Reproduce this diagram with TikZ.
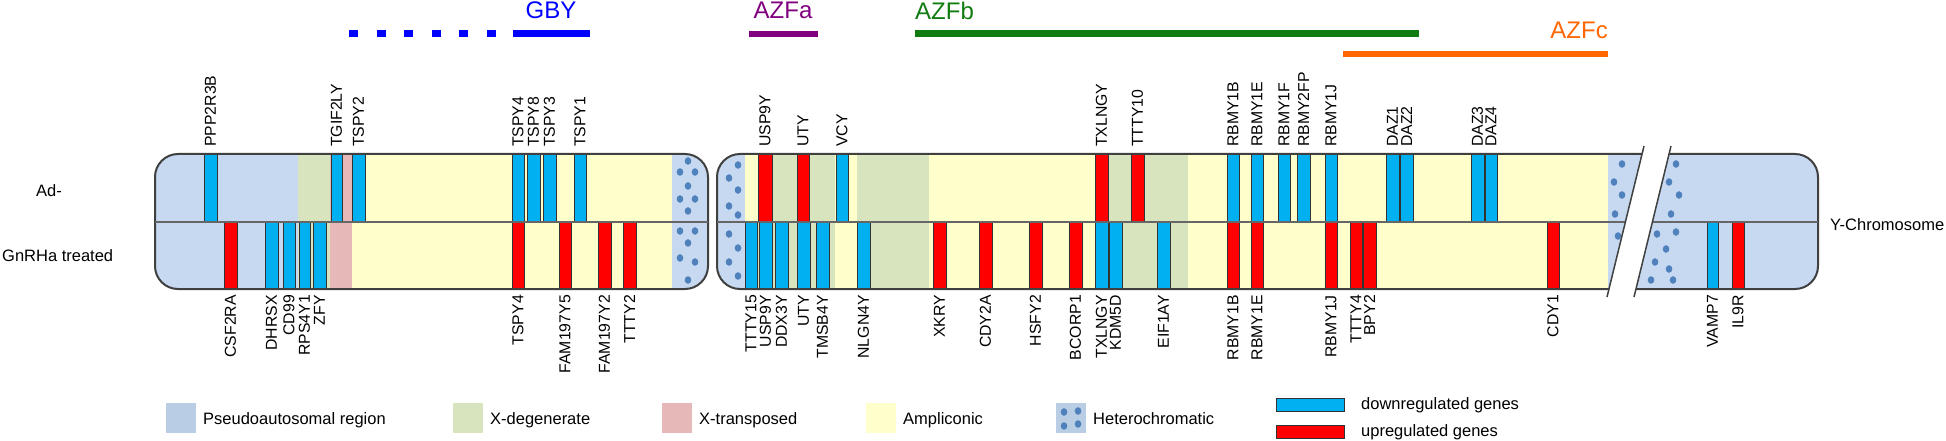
\documentclass[tikz,border=0pt]{standalone}
\usepackage{fontspec}
\setmainfont{Liberation Sans}
\usepackage{xcolor}
\definecolor{parblue}{RGB}{198,217,241}
\definecolor{parleg}{RGB}{185,205,229}
\definecolor{xdeg}{RGB}{215,228,189}
\definecolor{xtrans}{RGB}{230,185,184}
\definecolor{ampl}{RGB}{255,255,204}
\definecolor{dotblue}{RGB}{79,129,189}
\definecolor{dreg}{RGB}{0,176,240}
\definecolor{ureg}{RGB}{255,0,0}
\definecolor{gbyblue}{RGB}{0,0,255}
\definecolor{azfa}{RGB}{128,0,128}
\definecolor{azfb}{RGB}{16,124,16}
\definecolor{azfc}{RGB}{255,102,0}
\usepackage{tikz}
\usetikzlibrary{calc}
\tikzset{
  gene/.style={draw=black!80, line width=0.9pt},
  genelabel/.style={rotate=90, inner sep=0pt, font=\fontsize{15.8}{18}\selectfont},
  chromline/.style={draw=black!75, line width=2pt, rounded corners=23pt},
  midline/.style={draw=black!60, line width=1.4pt},
  slashline/.style={draw=black!75, line width=1.5pt},
  regionbar/.style={line width=7pt},
  regionlabel/.style={font=\fontsize{24}{28}\selectfont, inner sep=0pt, anchor=base},
  plainlabel/.style={font=\fontsize{16.5}{19}\selectfont, inner sep=0pt, anchor=base west},
}

\begin{document}
\begin{tikzpicture}[x=1pt, y=-1pt]
\useasboundingbox (0,0) rectangle (1946,441);

% region bars
\draw[regionbar, gbyblue, dash pattern=on 9pt off 18.6pt] (349,33.5) -- (496,33.5);
\draw[regionbar, gbyblue] (513,33.5) -- (590,33.5);
\draw[regionbar, azfa, line width=6pt] (749,34) -- (818,34);
\draw[regionbar, azfb] (915,33.5) -- (1419,33.5);
\draw[regionbar, azfc, line width=6pt] (1343,54) -- (1608,54);
\node[regionlabel, gbyblue] (gby) at (551,19) {GBY};
\node[regionlabel, azfa] (azfa) at (783,19) {AZFa};
\node[regionlabel, azfb, anchor=base west] (azfb) at (915,20) {AZFb};
\node[regionlabel, azfc, anchor=base east] (azfc) at (1608,39) {AZFc};

% the break
\coordinate (s1t) at (1644,146);
\coordinate (s1b) at (1607,297);
\coordinate (s2t) at (1671,146);
\coordinate (s2b) at (1634,297);

% short arm piece
\begin{scope}
  \clip[rounded corners=23pt] (155,154) rectangle (708,289);
  \fill[parblue] (155,154) rectangle (298,289);
  \fill[xdeg] (298,154) rectangle (330,289);
  \fill[xtrans] (330,154) rectangle (352,289);
  \fill[ampl] (352,154) rectangle (672,289);
  \fill[parblue] (672,154) rectangle (708,289);
  \foreach \dx/\dy in {688/161, 680/172, 695/172, 688/186, 680/199, 695/199, 688/211,
                       680/231, 695/231, 688/243, 680/258, 695/262, 688/280}
    \fill[dotblue] (\dx,\dy) ellipse[x radius=3.3pt, y radius=3.8pt];
\end{scope}

% long arm piece
\begin{scope}
  \clip (700,100) -- ($(s1t)!-0.3!(s1b)$) -- ($(s1t)!1.3!(s1b)$) -- (700,330) -- cycle;
  \clip[rounded corners=23pt] (717,154) rectangle (1700,289);
  \fill[parblue] (717,154) rectangle (745,289);
  \fill[ampl] (745,154) rectangle (758,289);
  \fill[xdeg] (758,154) rectangle (835,289);
  \fill[ampl] (835,154) rectangle (857,289);
  \fill[xdeg] (857,154) rectangle (929,289);
  \fill[ampl] (929,154) rectangle (1095,289);
  \fill[xdeg] (1095,154) rectangle (1188,289);
  \fill[ampl] (1188,154) rectangle (1608,289);
  \fill[parblue] (1608,154) rectangle (1700,289);
  \foreach \dx/\dy in {738/165, 729/178, 738/190, 729/206, 738/215, 729/234, 738/248,
                       729/262, 738/276, 1622/164, 1614/182, 1622/195, 1615/214, 1618/236}
    \fill[dotblue] (\dx,\dy) ellipse[x radius=3.3pt, y radius=3.8pt];
\end{scope}

% distal piece
\begin{scope}
  \clip (1946,100) -- ($(s2t)!-0.3!(s2b)$) -- ($(s2t)!1.3!(s2b)$) -- (1946,330) -- cycle;
  \clip[rounded corners=23pt] (1580,154) rectangle (1818,289);
  \fill[parblue] (1580,154) rectangle (1818,289);
  \foreach \dx/\dy in {1676/164, 1669/182, 1679/195, 1671/214, 1676/232, 1657/234,
                       1666/249, 1655/262, 1669/269, 1651/280, 1673/280}
    \fill[dotblue] (\dx,\dy) ellipse[x radius=3.3pt, y radius=3.8pt];
\end{scope}

% genes, Ad- row
\foreach \xa/\xb/\col/\name in {204/217/dreg/PPP2R3B, 331/342/dreg/TGIF2LY, 352/365/dreg/TSPY2,
    512/524/dreg/TSPY4, 527/540/dreg/TSPY8, 543/556/dreg/TSPY3, 574/586/dreg/TSPY1,
    758/772/ureg/USP9Y, 797/809/ureg/UTY, 836/848/dreg/VCY, 1095/1108/ureg/TXLNGY,
    1131/1144/ureg/TTTY10, 1227/1239/dreg/RBMY1B, 1251/1263/dreg/RBMY1E, 1278/1290/dreg/RBMY1F,
    1297/1310/dreg/RBMY2FP, 1325/1337/dreg/RBMY1J, 1386/1399/dreg/DAZ1, 1400/1413/dreg/DAZ2,
    1471/1484/dreg/DAZ3, 1485/1497/dreg/DAZ4}
{
  \draw[gene, fill=\col] (\xa,154) rectangle (\xb,222);
  \node[genelabel, anchor=west] (ad-\name) at ({(\xa+\xb)/2},147) {\name};
}

% genes, GnRHa row
\foreach \xa/\xb/\col/\name in {224/237/ureg/CSF2RA, 265/278/dreg/DHRSX, 283/295/dreg/CD99,
    299/310/dreg/RPS4Y1, 313/326/dreg/ZFY, 512/524/ureg/TSPY4, 559/571/ureg/FAM197Y5,
    598/611/ureg/FAM197Y2, 623/636/ureg/TTTY2, 745/757/dreg/TTTY15, 759/772/dreg/USP9Y,
    775/788/dreg/DDX3Y, 797/810/dreg/UTY, 816/829/dreg/TMSB4Y, 857/870/dreg/NLGN4Y,
    933/946/ureg/XKRY, 979/992/ureg/CDY2A, 1029/1042/ureg/HSFY2, 1069/1082/ureg/BCORP1,
    1095/1108/dreg/TXLNGY, 1109/1122/dreg/KDM5D, 1157/1170/dreg/EIF1AY, 1227/1239/ureg/RBMY1B,
    1251/1263/ureg/RBMY1E, 1325/1337/ureg/RBMY1J, 1350/1362/ureg/TTTY4, 1363/1376/ureg/BPY2,
    1547/1559/ureg/CDY1, 1707/1718/dreg/VAMP7, 1732/1744/ureg/IL9R}
{
  \draw[gene, fill=\col] (\xa,222) rectangle (\xb,289);
  \node[genelabel, anchor=east] (gn-\name) at ({(\xa+\xb)/2},295) {\name};
}

% outlines
\draw[chromline] (155,154) rectangle (708,289);
\draw[midline] (155,222) -- (708,222);
\begin{scope}
  \clip (700,100) -- ($(s1t)!-0.3!(s1b)$) -- ($(s1t)!1.3!(s1b)$) -- (700,330) -- cycle;
  \draw[chromline] (717,154) rectangle (1700,289);
  \draw[midline] (717,222) -- (1700,222);
\end{scope}
\begin{scope}
  \clip (1946,100) -- ($(s2t)!-0.3!(s2b)$) -- ($(s2t)!1.3!(s2b)$) -- (1946,330) -- cycle;
  \draw[chromline] (1580,154) rectangle (1818,289);
  \draw[midline] (1580,222) -- (1818,222);
\end{scope}
\draw[slashline] (s1t) -- (s1b);
\draw[slashline] (s2t) -- (s2b);

\node[plainlabel] (ad) at (36,196) {Ad-};
\node[plainlabel] (gn) at (2,261) {GnRHa treated};
\node[plainlabel] (ychr) at (1830,230) {Y-Chromosome};

% legend
\foreach \lx/\col/\txt/\lname in {166/parleg/Pseudoautosomal region/par, 453/xdeg/X-degenerate/xdeg,
    662/xtrans/X-transposed/xtrans, 866/ampl/Ampliconic/ampl, 1056/parleg/Heterochromatic/het}
{
  \fill[\col] (\lx,403) rectangle ++(30,30);
  \node[plainlabel] (leg-\lname) at (\lx+37,424) {\txt};
}
\foreach \dx/\dy in {1064/412, 1078/411, 1064/426, 1078/424}
  \fill[dotblue] (\dx,\dy) ellipse[x radius=3.3pt, y radius=3.8pt];
\draw[gene, fill=dreg] (1276,398) rectangle (1344,411);
\draw[gene, fill=ureg] (1276,425) rectangle (1344,438);
\node[plainlabel] (leg-down) at (1361,409) {downregulated genes};
\node[plainlabel] (leg-up) at (1361,436) {upregulated genes};
\end{tikzpicture}
\end{document}
